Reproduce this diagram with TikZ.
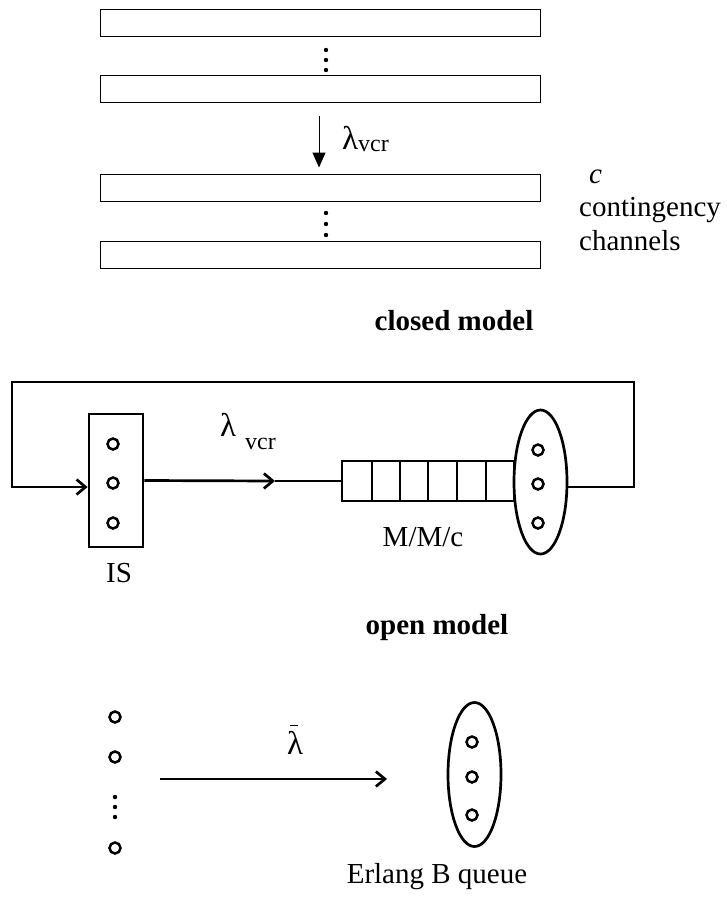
\documentclass[tikz,border=0pt]{standalone}
\usepackage{fontspec}
\setmainfont{Liberation Serif}
\usetikzlibrary{arrows.meta,shapes.geometric}

\begin{document}
\begin{tikzpicture}[x=1pt,y=-1pt,
  lbl/.style={inner sep=0pt,font=\fontsize{29}{34}\selectfont},
  chan/.style={draw,line width=1pt,minimum width=440pt,minimum height=27pt,inner sep=0pt},
  station/.style={draw,line width=2.7pt,inner sep=0pt},
  server/.style={draw,ellipse,line width=2.7pt,minimum width=53pt,minimum height=144pt,inner sep=0pt},
  flow/.style={line width=2.7pt},
  job/.style={line width=2.5pt},
  barb/.style={-{Straight Barb[length=9pt,width=15pt]}}]
\useasboundingbox (0,0) rectangle (726,897);

% closed model: the c channels
\node[chan] (ch1) at (320,22.5) {};
\node[chan] (ch2) at (320,89) {};
\node[chan] (ch3) at (320,187.5) {};
\node[chan] (ch4) at (320,254.5) {};
\foreach \y in {50,60,70,213,224,235} \fill (326,\y) circle (2.2);
\draw[line width=1pt,-{Triangle[length=15pt,width=13pt]},shorten <=13pt,shorten >=6pt]
  ([xshift=-1pt]ch2.south) -- ([xshift=-1pt]ch3.north);
\node[lbl,anchor=base west] (lamtop) at (342,149)
  {{\fontsize{33}{34}\selectfont λ}\raisebox{-2pt}{\fontsize{24}{24}\selectfont vcr}};
\node[lbl,anchor=base west] (cnum) at (589,183) {\textit{c}};
\node[lbl,anchor=base west] (cont) at (579,216) {contingency};
\node[lbl,anchor=base west] (chans) at (579,250) {channels};
\node[lbl,font=\fontsize{29}{34}\selectfont\bfseries] (closed) at (454,321) {closed model};

% open model: IS station feeding the M/M/c queue
\node[station,minimum width=54pt,minimum height=133pt] (is) at (116,480.5) {};
\foreach \y in {444,483,523} \draw[job] (113,\y) circle (5.5);
\node[station,minimum width=172pt,minimum height=40pt] (q) at (428,481) {};
\foreach \x in {372,400,428,457,486} \draw[job] (\x,461) -- (\x,501);
\node[server,fill=white] (srv) at (540.5,482) {};
\foreach \y in {450,484,523} \draw[job] (538,\y) circle (5.5);
\coordinate (mid) at (275,481);
\coordinate (loopR) at (634,382);
\coordinate (loopL) at (12,382);
\draw[flow,barb] (is.east) -- (mid);
\draw[flow] (mid) -- (q.west);
\draw[flow,barb] ([yshift=-5pt]srv.east) -| (loopR) -- (loopL) |- ([yshift=-6.5pt]is.west);
\node[lbl,anchor=base west] (lammid) at (220,436)
  {{\fontsize{33}{34}\selectfont λ}\hspace{9pt}\raisebox{-13pt}{\fontsize{24}{24}\selectfont vcr}};
\node[lbl] (islbl) at (119,573) {IS};
\node[lbl] (mmc) at (423,537) {M/M/c};
\node[lbl,font=\fontsize{29}{34}\selectfont\bfseries] (open) at (437,628) {open model};

% Erlang B approximation
\foreach \y in {717,757,848} \draw[job] (115,\y) circle (5.5);
\foreach \y in {797,807,817} \fill (115,\y) circle (2.2);
\coordinate (src) at (160,779);
\coordinate (dst) at (387,779);
\draw[flow,barb] (src) -- (dst);
\node[lbl,font=\fontsize{33}{34}\selectfont,anchor=base] (lambar) at (295,754) {λ};
\draw[line width=1.3pt] ([xshift=-5pt,yshift=5pt]lambar.north) -- ++(8,0);
\node[server] (erl) at (474.5,774.5) {};
\foreach \y in {742,777,815} \draw[job] (472,\y) circle (5.5);
\node[lbl] (erlbl) at (437,877) {Erlang B queue};
\end{tikzpicture}
\end{document}
